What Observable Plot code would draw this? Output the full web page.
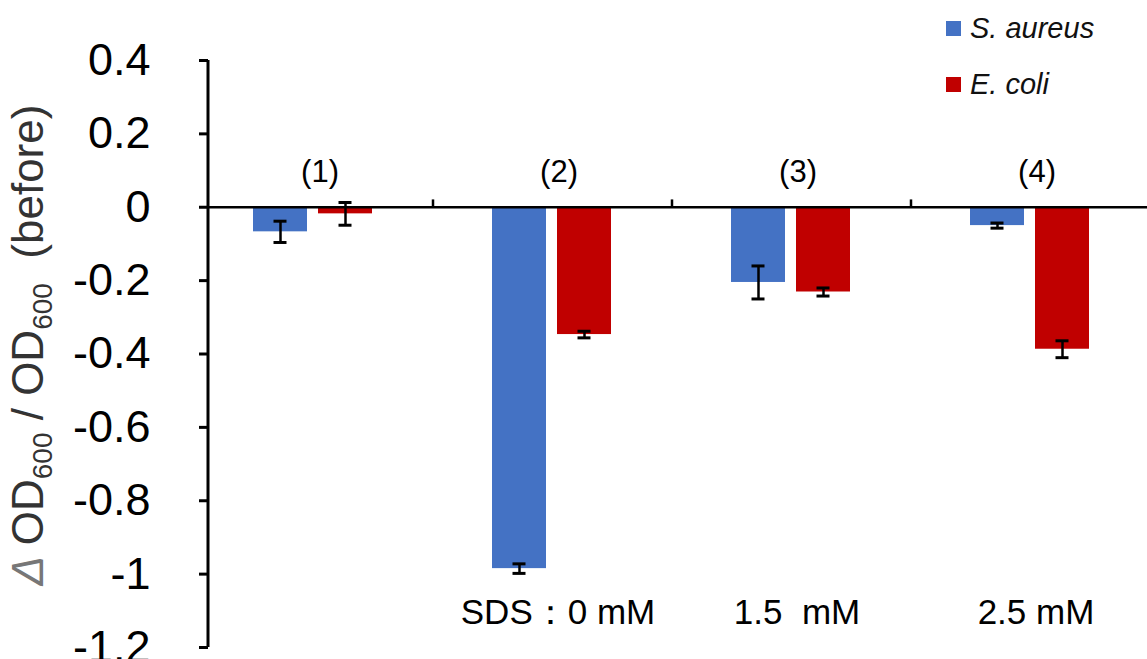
<!DOCTYPE html>
<html><head><meta charset="utf-8">
<script src="https://cdn.jsdelivr.net/npm/d3@7"></script>
<script src="https://cdn.jsdelivr.net/npm/@observablehq/plot@0.6"></script>
<style>
body{margin:0;background:#fff;font-family:"Liberation Sans",Arial,sans-serif;}
#wrap{position:relative;width:1147px;height:659px;overflow:hidden;}
#legend{position:absolute;left:946px;top:12px;font-style:italic;font-size:29px;color:#111;}
#legend .item{display:flex;align-items:center;height:32px;margin-bottom:24px;}
#legend .sw{width:15px;height:15px;margin-right:9px;}
</style></head><body>
<div id="wrap"><div id="chart"></div><div id="legend"></div></div>
<script>
const groups = ["(1)", "(2)", "(3)", "(4)"];
const series = ["S. aureus", "E. coli"];
const saureus = [-0.067, -0.985, -0.205, -0.050];
const saureusErr = [0.029, 0.013, 0.045, 0.007];
const ecoli = [-0.018, -0.347, -0.231, -0.387];
const ecoliErr = [0.031, 0.009, 0.011, 0.023];
const sdsLabels = ["", "SDS：0 mM", "1.5  mM", "2.5 mM"];
const yTicks = [0.4, 0.2, 0, -0.2, -0.4, -0.6, -0.8, -1, -1.2];
const colors = ["#4472C4", "#C00000"];

const rowsS = groups.map((g, i) => ({group: g, value: saureus[i], err: saureusErr[i]}));
const rowsE = groups.map((g, i) => ({group: g, value: ecoli[i], err: ecoliErr[i]}));
const caps = rows => rows.flatMap(d => [{group: d.group, v: d.value - d.err}, {group: d.group, v: d.value + d.err}]);
const sdsRows = groups.map((g, i) => ({group: g, label: sdsLabels[i]})).filter(d => d.label);

const fmt = d => String(+d.toFixed(1));

const barMarks = (rows, color, dx) => [
  Plot.barY(rows, {x: "group", y: "value", fill: color, insetLeft: 92.5, insetRight: 92.5, dx}),
  Plot.ruleX(rows, {x: "group", y1: d => d.value - d.err, y2: d => d.value + d.err, dx, stroke: "#000", strokeWidth: 2.5}),
  Plot.tickY(caps(rows), {x: "group", y: "v", dx, insetLeft: 113, insetRight: 113, stroke: "#000", strokeWidth: 3})
];

const chart = Plot.plot({
  width: 1147,
  height: 659,
  marginLeft: 208,
  marginRight: 0,
  marginTop: 60,
  marginBottom: 12,
  style: {fontFamily: "'Liberation Sans', Arial, sans-serif", color: "#000", background: "#fff"},
  x: {type: "band", domain: groups, range: [191, 1150], padding: 0, axis: null},
  y: {domain: [-1.2, 0.4], axis: null},
  marks: [
    Plot.axisY({ticks: yTicks, tickFormat: fmt, tickSize: 9, tickPadding: 49, fontSize: 45, stroke: "#000", strokeWidth: 3, label: null}),
    ...barMarks(rowsS, colors[0], -32.5),
    ...barMarks(rowsE, colors[1], 32.5),
    Plot.ruleY([0], {strokeWidth: 2.5}),
    Plot.ruleX(groups.slice(0, 3), {x: d => d, dx: 120, y1: 0, y2: 0.02, strokeWidth: 2.5}),
    Plot.text(groups, {x: d => d, y: () => 0.095, text: d => d, dx: 7, fontSize: 31}),
    Plot.text(sdsRows, {x: "group", y: () => -1.105, text: "label", dx: 6, fontSize: 35})
  ]
});
document.getElementById("chart").appendChild(chart);

const svg = d3.select(chart);
const yScale = chart.scale("y");
const [yMin, yMax] = yScale.domain;
// y-axis line drawn from the plot's own y scale
svg.append("line")
  .attr("x1", 208).attr("x2", 208)
  .attr("y1", yScale.apply(yMax)).attr("y2", yScale.apply(yMin))
  .attr("stroke", "#000").attr("stroke-width", 3);

// y-axis title with subscripts
const t = svg.append("text")
  .attr("transform", "translate(43,345) rotate(-90)")
  .attr("text-anchor", "middle")
  .attr("font-size", 44)
  .attr("fill", "#333");
t.append("tspan").attr("font-style", "italic").attr("fill", "#777").text("Δ ");
t.append("tspan").text("OD");
t.append("tspan").attr("font-size", 28).attr("dy", 9).text("600");
t.append("tspan").attr("dy", -9).text(" / OD");
t.append("tspan").attr("font-size", 28).attr("dy", 9).text("600");
t.append("tspan").attr("dy", -9).text("  (before)");

// legend
const legend = d3.select("#legend");
series.forEach((s, i) => {
  const it = legend.append("div").attr("class", "item");
  it.append("div").attr("class", "sw").style("background", colors[i]);
  it.append("span").text(s);
});
</script>
</body></html>
